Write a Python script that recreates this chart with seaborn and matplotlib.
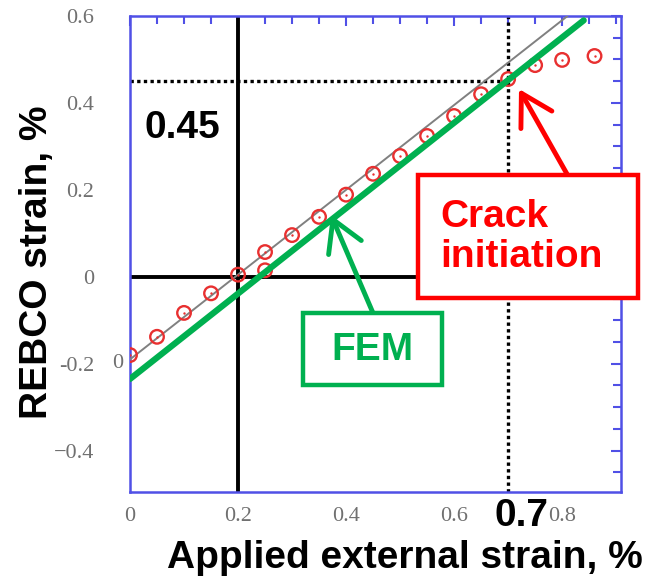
import matplotlib
matplotlib.use("Agg")
import matplotlib.pyplot as plt
import seaborn as sns
from matplotlib.patches import Rectangle
from matplotlib.ticker import MultipleLocator, FixedLocator

# ---- data ----
applied = [0.00, 0.05, 0.10, 0.15, 0.20, 0.25, 0.25, 0.30, 0.35, 0.40,
           0.45, 0.50, 0.55, 0.60, 0.65, 0.70, 0.75, 0.80, 0.86]
rebco = [-0.180, -0.138, -0.083, -0.038, 0.005, 0.057, 0.015, 0.096, 0.138, 0.189,
         0.237, 0.278, 0.324, 0.370, 0.420, 0.455, 0.487, 0.499, 0.508]
fit_x = [0.00, 0.81]
fit_y = [-0.19, 0.60]
fem_x = [0.00, 0.84]
fem_y = [-0.235, 0.59]
crack_x = 0.70
crack_y = 0.45
ref_x = 0.20
ref_y = 0.0
xticks = [0, 0.2, 0.4, 0.6, 0.8]
xticklabels = ["0", "0.2", "0.4", "0.6", "0.8"]
yticks = [-0.4, -0.2, 0, 0.2, 0.4, 0.6]
yticklabels = ["\u22120.4", "-0.2", "0", "0.2", "0.4", "0.6"]

W, H = 656, 584
def fp(x, y):
    return (x / W, 1 - y / H)

sns.set_style("white")
plt.rcParams["font.family"] = ["Liberation Sans", "DejaVu Sans"]
plt.rcParams["text.color"] = "black"

fig = plt.figure(figsize=(6.56, 5.84), dpi=100)
ax = fig.add_axes([130 / W, 1 - 492 / H, 491 / W, 476 / H])

RED = "#ff0000"
GREEN = "#00b050"
BLUE = "#5050e6"

ax.axvline(ref_x, color="black", lw=2.8, zorder=2)
ax.axhline(ref_y, color="black", lw=2.8, zorder=2)
ax.plot([0, crack_x], [crack_y, crack_y], color="black", lw=2.4,
        ls=(0, (1, 1)), zorder=2)
ax.axvline(crack_x, color="black", lw=2.4, ls=(0, (1, 1)), zorder=2)

sns.lineplot(x=fit_x, y=fit_y, ax=ax, color="#808080", lw=1.4,
             estimator=None, zorder=3)
sns.scatterplot(x=applied, y=rebco, ax=ax, marker="o", s=95,
                facecolor="none", edgecolor="#e83030", linewidth=1.7, zorder=4)
sns.scatterplot(x=applied, y=rebco, ax=ax, marker="o", s=3,
                color="#e83030", linewidth=0, zorder=4)
sns.lineplot(x=fem_x, y=fem_y, ax=ax, color=GREEN, lw=4.5,
             estimator=None, zorder=5)

ax.set_xlim(0, 0.909)
ax.set_ylim(-0.495, 0.6)
ax.xaxis.set_major_locator(FixedLocator(xticks))
ax.yaxis.set_major_locator(FixedLocator(yticks))
ax.set_xticklabels(xticklabels)
ax.set_yticklabels(yticklabels)
ax.xaxis.set_minor_locator(MultipleLocator(0.05))
ax.yaxis.set_minor_locator(MultipleLocator(0.05))
ax.tick_params(which="both", direction="in", top=True, right=True,
               color=BLUE, width=1.5)
ax.tick_params(which="major", length=7)
ax.tick_params(which="minor", length=6)
ax.tick_params(axis="x", pad=11, labelsize=16, labelcolor="#707070")
ax.tick_params(axis="y", pad=26, labelsize=16, labelcolor="#707070")
for lab in ax.get_xticklabels() + ax.get_yticklabels():
    lab.set_family("Liberation Serif")
for s in ax.spines.values():
    s.set_color(BLUE)
    s.set_linewidth(1.8)
ax.set_xlabel("")
ax.set_ylabel("")

# stray "0" next to the -0.2 label
fig.text(*fp(118, 364), "0", ha="center", va="center", fontsize=16,
         color="#707070", family="Liberation Serif")

# axis titles
fig.text(*fp(405, 558), "Applied external strain, %", ha="center", va="center",
         fontsize=28, fontweight="bold", color="black")
fig.text(*fp(37, 262), "REBCO strain, %", ha="center", va="center",
         rotation=90, fontsize=28, fontweight="bold", color="black")

# value labels
fig.text(*fp(182, 128), "0.45", ha="center", va="center", fontsize=28,
         fontweight="bold", color="black")
fig.text(*fp(522, 516), "0.7", ha="center", va="center", fontsize=28,
         fontweight="bold", color="black")

# crack initiation box
fig.add_artist(Rectangle(fp(418, 298), 220 / W, 123 / H, transform=fig.transFigure,
                         facecolor="white", edgecolor=RED, lw=3.2, zorder=10))
fig.text(*fp(440, 237), "Crack\ninitiation", ha="left", va="center",
         fontsize=28, fontweight="bold", color=RED, linespacing=1.15, zorder=11)
ax.annotate("", xy=fp(519, 89), xytext=fp(567, 174), xycoords="figure fraction",
            textcoords="figure fraction",
            arrowprops=dict(arrowstyle="->,head_length=0.55,head_width=0.32",
                            color=RED, lw=3.5, mutation_scale=40,
                            shrinkA=0, shrinkB=0), zorder=12)

# FEM box
fig.add_artist(Rectangle(fp(303, 385), 139 / W, 72 / H, transform=fig.transFigure,
                         facecolor="white", edgecolor=GREEN, lw=3.2, zorder=10))
fig.text(*fp(372, 350), "FEM", ha="center", va="center", fontsize=28,
         fontweight="bold", color=GREEN, zorder=11)
ax.annotate("", xy=fp(331, 215), xytext=fp(373, 313), xycoords="figure fraction",
            textcoords="figure fraction",
            arrowprops=dict(arrowstyle="->,head_length=0.55,head_width=0.32",
                            color=GREEN, lw=3.5, mutation_scale=40,
                            shrinkA=0, shrinkB=0), zorder=12)

fig.savefig("out.png", dpi=100)
